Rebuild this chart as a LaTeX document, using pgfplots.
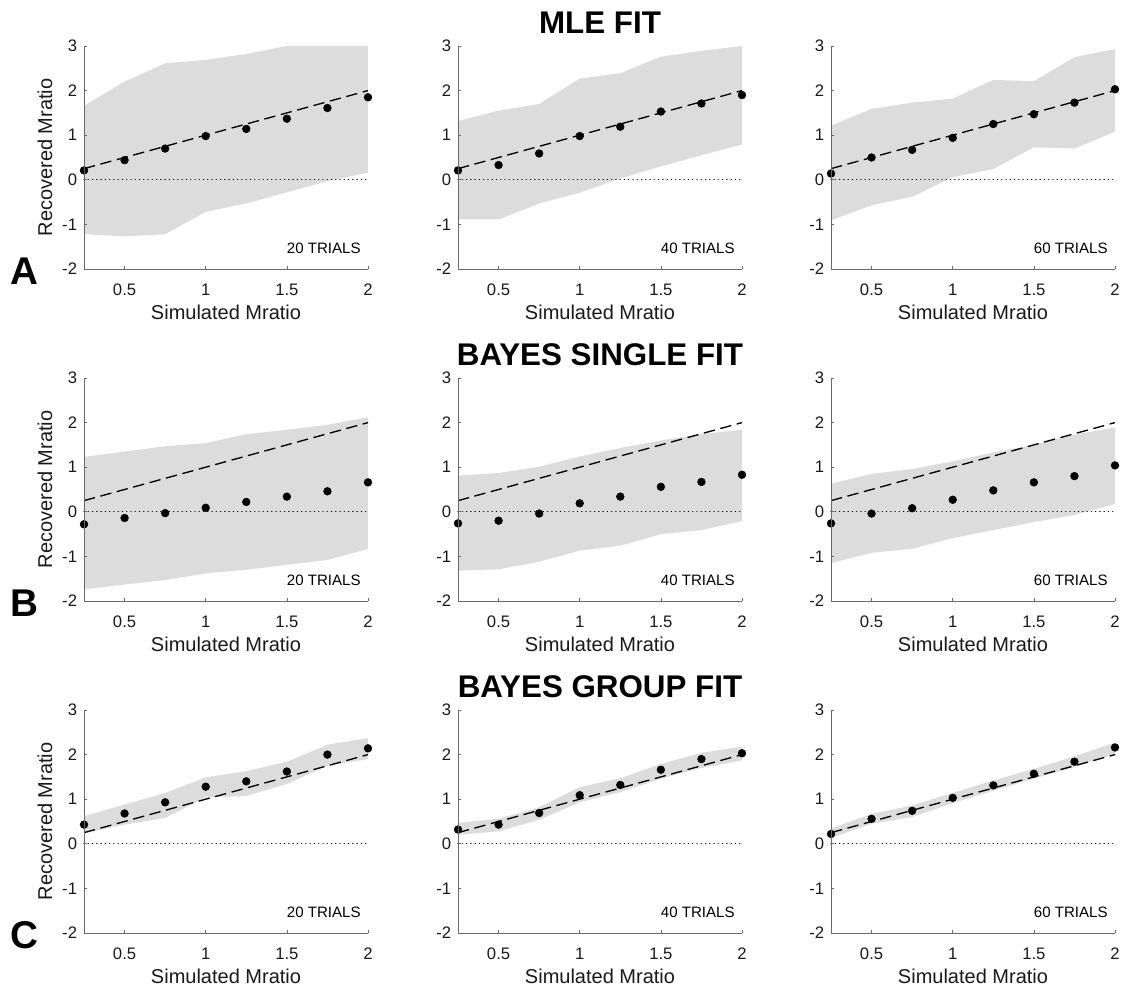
\documentclass[border=0pt]{standalone}
\usepackage{fontspec}
\setmainfont{Liberation Sans}
\usepackage{pgfplots}
\pgfplotsset{compat=1.18}
\usepackage{pgfplotstable}
\usepgfplotslibrary{fillbetween}
\definecolor{band}{RGB}{220,220,220}
\definecolor{axgray}{RGB}{105,105,105}

\pgfplotstableread{
x m lo hi
0.25 0.21 -1.22 1.66
0.50 0.44 -1.27 2.20
0.75 0.70 -1.22 2.61
1.00 0.98 -0.72 2.69
1.25 1.14 -0.53 2.82
1.50 1.37 -0.28 3.00
1.75 1.61 -0.03 3.00
2.00 1.85 0.16 3.00
}\tAa
\pgfplotstableread{
x m lo hi
0.25 0.21 -0.89 1.32
0.50 0.33 -0.89 1.55
0.75 0.59 -0.53 1.70
1.00 0.98 -0.29 2.27
1.25 1.19 0.03 2.39
1.50 1.53 0.30 2.76
1.75 1.71 0.55 2.89
2.00 1.90 0.79 3.00
}\tAb
\pgfplotstableread{
x m lo hi
0.25 0.14 -0.91 1.21
0.50 0.50 -0.57 1.59
0.75 0.67 -0.38 1.73
1.00 0.94 0.06 1.82
1.25 1.25 0.24 2.24
1.50 1.47 0.73 2.21
1.75 1.73 0.70 2.75
2.00 2.03 1.08 2.93
}\tAc
\pgfplotstableread{
x m lo hi
0.25 -0.28 -1.74 1.23
0.50 -0.14 -1.63 1.35
0.75 -0.03 -1.53 1.47
1.00 0.09 -1.38 1.54
1.25 0.22 -1.30 1.74
1.50 0.34 -1.19 1.84
1.75 0.46 -1.08 1.95
2.00 0.66 -0.83 2.12
}\tBa
\pgfplotstableread{
x m lo hi
0.25 -0.26 -1.32 0.81
0.50 -0.20 -1.29 0.87
0.75 -0.04 -1.12 1.01
1.00 0.19 -0.87 1.24
1.25 0.34 -0.76 1.43
1.50 0.56 -0.50 1.60
1.75 0.67 -0.41 1.74
2.00 0.83 -0.21 1.84
}\tBb
\pgfplotstableread{
x m lo hi
0.25 -0.26 -1.15 0.63
0.50 -0.04 -0.92 0.85
0.75 0.08 -0.83 0.96
1.00 0.27 -0.59 1.13
1.25 0.48 -0.41 1.33
1.50 0.66 -0.23 1.50
1.75 0.80 -0.07 1.73
2.00 1.04 0.18 1.89
}\tBc
\pgfplotstableread{
x m lo hi
0.25 0.43 0.24 0.62
0.50 0.68 0.43 0.88
0.75 0.93 0.58 1.14
1.00 1.28 1.04 1.49
1.25 1.40 1.07 1.63
1.50 1.62 1.34 1.84
1.75 2.00 1.75 2.22
2.00 2.14 1.90 2.37
}\tCa
\pgfplotstableread{
x m lo hi
0.25 0.32 0.20 0.47
0.50 0.43 0.28 0.56
0.75 0.69 0.54 0.82
1.00 1.09 0.93 1.27
1.25 1.32 1.16 1.47
1.50 1.66 1.46 1.79
1.75 1.90 1.70 2.04
2.00 2.03 1.87 2.18
}\tCb
\pgfplotstableread{
x m lo hi
0.25 0.22 0.13 0.34
0.50 0.56 0.45 0.67
0.75 0.74 0.60 0.86
1.00 1.03 0.91 1.14
1.25 1.31 1.19 1.42
1.50 1.57 1.46 1.68
1.75 1.84 1.72 1.96
2.00 2.16 2.01 2.27
}\tCc

\newcommand{\tickfont}{\fontsize{12.5}{14}\selectfont}
\newcommand{\labfont}{\fontsize{15}{17}\selectfont}
\newcommand{\trialsfont}{\fontsize{11.3}{13}\selectfont}
\newcommand{\titlefont}{\bfseries\fontsize{23.5}{26}\selectfont}
\newcommand{\letterfont}{\bfseries\fontsize{29}{31}\selectfont}

\pgfplotsset{
  panel/.style={
    scale only axis, width=213pt, height=167.25pt,
    xmin=0.25, xmax=2, ymin=-2, ymax=3,
    xtick={0.5,1,1.5,2}, ytick={-2,-1,0,1,2,3},
    axis lines=left,
    axis line style={-, draw=axgray, line width=0.6pt},
    every outer x axis line/.append style={-},
    every outer y axis line/.append style={-},
    tick align=inside, major tick length=2.5pt,
    tick style={axgray, line width=0.5pt},
    /pgf/number format/assume math mode=true,
    tick label style={font=\tickfont, text=black!90},
    xticklabel style={inner sep=0pt, anchor=north, yshift=-11pt},
    yticklabel style={inner sep=0pt, anchor=east, xshift=-5pt},
    xlabel={Simulated Mratio},
    xlabel style={font=\labfont, text=black!90, at={(axis description cs:0.5,-0.1928)}, anchor=center, inner sep=0pt},
    ylabel style={font=\labfont, text=black!90, at={(axis description cs:-0.1373,0.5)}, anchor=center, inner sep=0pt},
    clip=false, axis on top,
  }
}

\newcommand{\panel}[5]{%
\begin{axis}[panel, at={(#1,#2)}, anchor=south west, #5]
\addplot[draw=none, name path=hi] table[x=x,y=hi]{#3};
\addplot[draw=none, name path=lo] table[x=x,y=lo]{#3};
\addplot[fill=band, draw=none] fill between[of=hi and lo];
\addplot[black, line width=1pt, line cap=round, dash pattern=on 0.1pt off 3.1pt] coordinates {(0.25,0) (2,0)};
\addplot[black, line width=1pt, dash pattern=on 8.5pt off 4.25pt] coordinates {(0.25,0.25) (2,2)};
\addplot[only marks, mark=*, mark size=2.9pt, black] table[x=x,y=m]{#3};
\node[anchor=east, font=\trialsfont, inner sep=0pt] at (rel axis cs:0.975,0.093) {#4};
\end{axis}}

\begin{document}
\begin{tikzpicture}
% Row A
\panel{63pt}{538.5pt}{\tAa}{20 TRIALS}{ylabel={Recovered Mratio}}
\panel{343.5pt}{538.5pt}{\tAb}{40 TRIALS}{}
\panel{623.25pt}{538.5pt}{\tAc}{60 TRIALS}{}
% Row B
\panel{63pt}{289.5pt}{\tBa}{20 TRIALS}{ylabel={Recovered Mratio}}
\panel{343.5pt}{289.5pt}{\tBb}{40 TRIALS}{}
\panel{623.25pt}{289.5pt}{\tBc}{60 TRIALS}{}
% Row C
\panel{63pt}{40.5pt}{\tCa}{20 TRIALS}{ylabel={Recovered Mratio}}
\panel{343.5pt}{40.5pt}{\tCb}{40 TRIALS}{}
\panel{623.25pt}{40.5pt}{\tCc}{60 TRIALS}{}
% Titles
\node[font=\titlefont, inner sep=0pt] at (450pt,723pt) {MLE FIT};
\node[font=\titlefont, inner sep=0pt] at (450pt,474pt) {BAYES SINGLE FIT};
\node[font=\titlefont, inner sep=0pt] at (450pt,225pt) {BAYES GROUP FIT};
% Panel letters
\node[font=\letterfont, inner sep=0pt] at (18pt,537pt) {A};
\node[font=\letterfont, inner sep=0pt] at (18pt,288pt) {B};
\node[font=\letterfont, inner sep=0pt] at (18pt,39pt) {C};
\path (0pt,0pt) rectangle (840.75pt,740.25pt);
\end{tikzpicture}
\end{document}
